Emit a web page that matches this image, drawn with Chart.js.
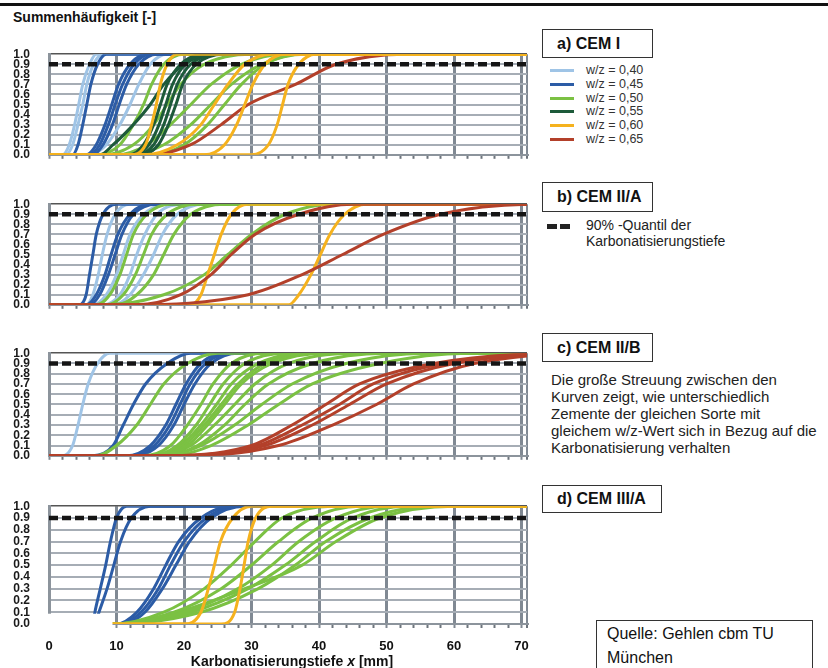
<!DOCTYPE html>
<html>
<head>
<meta charset="utf-8">
<script src="https://cdn.jsdelivr.net/npm/chart.js@4.4.0/dist/chart.umd.min.js"></script>
<style>
  body { margin: 0; width: 828px; height: 668px; position: relative; overflow: hidden; background: #fff;
         font-family: "Liberation Sans", Arial, sans-serif; color: #111; }
  .topline { position: absolute; left: 0; top: 3px; width: 828px; height: 3px; background: #111; }
  .title { position: absolute; left: 13px; top: 10px; font-size: 14px; font-weight: bold; line-height: 14px; }
  .panel { position: absolute; left: 0; width: 540px; }
  .box { position: absolute; border: 1px solid #333; box-sizing: border-box; font-weight: bold; font-size: 16px;
         padding-left: 14px; display: flex; align-items: center; white-space: nowrap; }
  .leg { position: absolute; left: 550px; height: 14px; font-size: 12.5px; line-height: 14px; color: #333; }
  .leg i { position: absolute; left: 0; top: 6px; width: 24px; height: 3px; }
  .leg span { position: absolute; left: 36px; top: 0; white-space: nowrap; }
  .note { position: absolute; left: 586px; font-size: 14px; line-height: 16px; color: #222; white-space: nowrap; }
  .para { position: absolute; left: 551px; top: 371px; font-size: 15px; line-height: 17px; color: #222; white-space: nowrap; }
  .quelle { position: absolute; left: 596px; top: 620px; width: 217px; height: 60px; border: 1px solid #333;
            box-sizing: border-box; padding: 1px 0 0 10px; font-size: 16px; line-height: 24px; color: #111; }
  .xtitle { position: absolute; left: 0; width: 584px; top: 654px; text-align: center; font-size: 14px;
            font-weight: bold; line-height: 14px; }
</style>
</head>
<body>
<div class="topline"></div>
<div class="title">Summenhäufigkeit [-]</div>

<div class="panel" style="top:28px;height:153px"><canvas id="chart-a"></canvas></div>
<div class="panel" style="top:178px;height:153px"><canvas id="chart-b"></canvas></div>
<div class="panel" style="top:327px;height:155px"><canvas id="chart-c"></canvas></div>
<div class="panel" style="top:480px;height:176px"><canvas id="chart-d"></canvas></div>
<div class="xtitle">Karbonatisierungstiefe <i>x</i> [mm]</div>

<div class="box" style="left:542px;top:29px;width:111px;height:29px">a) CEM I</div>
<div id="legend"></div>
<div class="box" style="left:542px;top:182px;width:111px;height:30px">b) CEM II/A</div>
<div style="position:absolute;left:547px;top:224px;width:24px;height:5px;background:repeating-linear-gradient(to right,#222 0 10px,transparent 10px 13px)"></div>
<div class="note" style="top:217px">90% -Quantil der</div>
<div class="note" style="top:233px">Karbonatisierungstiefe</div>
<div class="box" style="left:542px;top:333px;width:111px;height:29px">c) CEM II/B</div>
<div class="para">Die große Streuung zwischen den<br>Kurven zeigt, wie unterschiedlich<br>Zemente der gleichen Sorte mit<br>gleichem w/z-Wert sich in Bezug auf die<br>Karbonatisierung verhalten</div>
<div class="box" style="left:542px;top:485px;width:120px;height:28px">d) CEM III/A</div>
<div class="quelle">Quelle: Gehlen cbm TU<br>München</div>

<script>
// cumulative frequency levels; every curve below lists the depth x [mm] at which it reaches each level
const Y_LEVELS = [0, 0.1, 0.3, 0.5, 0.7, 0.9, 1.0];
const QUANTILE = 0.9;
const X_MAX = 70.8;
const X_TICK_VALUES = [0, 2, 4, 6, 8, 10, 12, 14, 16, 18, 20, 22, 24, 26, 28, 30, 32, 34, 36, 38,
                       40, 42, 44, 46, 48, 50, 52, 54, 56, 58, 60, 62, 64, 66, 68, 70];
const WZ_LABELS = ['w/z = 0,40', 'w/z = 0,45', 'w/z = 0,50', 'w/z = 0,55', 'w/z = 0,60', 'w/z = 0,65'];
const WZ_COLORS = ['#9fc4e6', '#2c5ca6', '#7bc143', '#1d5a3a', '#f5b21e', '#b3402a'];

// a) CEM I
const cemI_040 = [[2.0, 3.0, 3.8, 4.4, 5.0, 6.0, 7.0], [2.5, 3.5, 4.3, 5.0, 5.6, 6.6, 8.0],
                  [6.0, 8.5, 10.5, 12.0, 13.3, 15.0, 17.5]];
const cemI_045 = [[3.5, 4.3, 5.0, 5.6, 6.2, 7.2, 8.5], [5.5, 7.0, 8.3, 9.3, 10.3, 12.0, 14.5],
                  [6.0, 7.5, 8.8, 9.8, 10.9, 12.6, 15.0], [6.5, 8.0, 9.4, 10.4, 11.5, 13.3, 16.0]];
const cemI_050 = [[7.0, 10.5, 12.5, 14.0, 15.2, 17.0, 20.0], [8.0, 12.5, 15.5, 17.5, 19.5, 23.0, 30.0],
                  [10.0, 14.5, 18.0, 21.0, 24.0, 28.5, 35.0], [12.0, 17.0, 21.0, 24.0, 27.0, 31.5, 38.0],
                  [15.0, 20.0, 23.5, 26.0, 28.5, 32.0, 37.0]];
const cemI_055 = [[12.0, 14.0, 15.5, 16.5, 17.5, 19.5, 23.0], [12.5, 14.8, 16.3, 17.3, 18.3, 20.2, 24.0],
                  [13.0, 15.5, 17.0, 18.0, 19.0, 21.0, 25.0], [13.5, 16.2, 17.7, 18.8, 19.8, 21.8, 26.0],
                  [7.5, 9.5, 12.5, 15.0, 17.0, 20.0, 24.0]];
const cemI_060 = [[12.0, 14.3, 15.2, 15.9, 16.5, 17.5, 19.0], [14.0, 19.0, 22.5, 24.5, 26.5, 29.0, 33.0],
                  [23.0, 26.0, 27.8, 29.0, 30.2, 32.0, 35.0], [30.0, 32.5, 33.8, 34.6, 35.4, 37.0, 39.5]];
const cemI_065 = [[15.0, 21.0, 25.5, 29.5, 36.5, 42.5, 53.0]];

// b) CEM II/A
const cemIIA_040 = [[5.5, 6.5, 7.3, 7.9, 8.6, 9.8, 12.0], [6.5, 8.5, 10.0, 11.0, 12.0, 14.0, 18.0],
                    [8.0, 10.5, 12.0, 13.0, 14.2, 16.0, 20.0], [9.5, 12.0, 14.0, 15.5, 16.8, 19.0, 23.0]];
const cemIIA_045 = [[4.5, 5.5, 6.0, 6.5, 7.0, 8.0, 10.0], [5.5, 7.0, 8.3, 9.2, 10.2, 12.0, 15.0],
                    [6.0, 7.5, 8.8, 9.8, 10.8, 12.5, 16.0]];
const cemIIA_050 = [[7.0, 9.0, 10.5, 11.5, 12.5, 14.5, 18.0], [8.5, 11.0, 12.8, 14.0, 15.2, 17.5, 22.0],
                    [10.0, 13.0, 15.5, 17.0, 18.5, 21.0, 26.0], [8.0, 17.0, 23.0, 26.5, 30.0, 35.0, 42.0]];
const cemIIA_060 = [[21.0, 22.5, 23.5, 24.5, 25.5, 27.0, 29.5], [35.5, 37.0, 38.8, 40.2, 41.6, 43.8, 47.0]];
const cemIIA_065 = [[13.0, 19.5, 24.0, 27.0, 30.5, 37.0, 45.0], [12.0, 29.5, 37.5, 43.5, 49.5, 58.0, 72.0]];

// c) CEM II/B
const cemIIB_040 = [[2.0, 3.5, 4.3, 5.0, 5.8, 7.2, 9.0]];
const cemIIB_045 = [[6.5, 9.5, 11.0, 12.5, 14.3, 17.5, 21.0], [11.5, 15.0, 17.3, 18.8, 20.3, 22.5, 26.0],
                    [12.0, 15.6, 17.9, 19.4, 20.9, 23.2, 27.0], [12.5, 16.2, 18.5, 20.0, 21.6, 24.0, 28.0]];
const cemIIB_050 = [[7.0, 10.0, 13.0, 15.0, 17.0, 20.5, 25.0], [14.0, 18.0, 20.5, 22.5, 24.3, 27.0, 32.0],
                    [15.0, 19.0, 21.8, 23.8, 25.8, 29.0, 35.0], [15.0, 19.5, 22.5, 24.8, 27.0, 31.0, 38.0],
                    [15.5, 20.0, 23.0, 25.5, 28.0, 32.0, 39.0], [16.0, 20.5, 23.5, 26.0, 28.5, 33.0, 41.0],
                    [16.0, 21.0, 24.5, 27.5, 30.5, 35.5, 45.0], [17.0, 22.0, 26.0, 29.0, 32.5, 39.0, 50.0],
                    [17.0, 22.5, 27.5, 31.5, 36.0, 44.0, 56.0], [18.0, 24.0, 29.5, 34.0, 39.0, 49.0, 62.0]];
const cemIIB_065 = [[18.0, 30.0, 36.0, 41.0, 46.0, 57.0, 76.0], [19.0, 31.0, 37.5, 43.0, 48.0, 58.5, 78.0],
                    [20.0, 32.0, 39.0, 44.5, 50.0, 60.0, 80.0], [21.0, 34.0, 42.0, 48.5, 54.0, 63.0, 82.0]];

// d) CEM III/A
const cemIIIA_045 = [[6.5, 6.8, 7.6, 8.4, 9.1, 10.0, 11.5], [6.8, 7.4, 8.6, 9.6, 10.6, 12.2, 15.0],
                     [10.0, 13.0, 15.5, 17.3, 19.2, 22.5, 27.0], [10.5, 13.6, 16.2, 18.0, 20.0, 23.3, 28.0],
                     [11.0, 14.2, 16.8, 18.8, 20.8, 24.0, 29.0]];
const cemIIIA_050 = [[9.5, 17.0, 23.0, 27.0, 30.5, 34.5, 42.0], [9.5, 18.5, 25.5, 30.0, 34.0, 39.0, 46.0],
                     [9.5, 20.0, 28.0, 33.0, 37.0, 42.5, 50.0], [9.5, 21.0, 29.5, 35.0, 39.5, 45.0, 53.0],
                     [9.5, 22.5, 31.0, 36.5, 41.0, 47.5, 57.0], [9.5, 19.0, 29.0, 37.5, 42.5, 49.0, 60.0]];
const cemIIIA_060 = [[20.0, 22.5, 23.6, 24.5, 25.4, 27.2, 30.0], [25.5, 27.5, 28.3, 28.9, 29.5, 30.6, 33.0]];

// legend
const legendEl = document.getElementById('legend');
WZ_LABELS.forEach((label, i) => {
  const row = document.createElement('div');
  row.className = 'leg';
  row.style.top = (63 + i * 13.8) + 'px';
  row.innerHTML = `<i style="background:${WZ_COLORS[i]}"></i><span>${label}</span>`;
  legendEl.appendChild(row);
});

function curvePoints(xs) {
  const pts = [{x: 0, y: 0}];
  xs.forEach((x, i) => {
    if (x > pts[pts.length - 1].x) pts.push({x: x, y: Y_LEVELS[i]});
  });
  pts.push({x: 95, y: 1});
  return pts;
}

// white notch in the lower left corner of panel d (as in the original figure)
const notchPlugin = {
  id: 'notch',
  afterDatasetsDraw(chart, args, opts) {
    if (!opts || opts.x === undefined) return;
    const {ctx, chartArea, scales} = chart;
    const right = scales.x.getPixelForValue(opts.x);
    const top = scales.y.getPixelForValue(opts.y) + 1.5;
    ctx.save();
    ctx.fillStyle = '#fff';
    ctx.fillRect(chartArea.left - 3, top, right - chartArea.left + 3, chartArea.bottom + 10 - top);
    ctx.restore();
  }
};

function makePanel(id, groups, showX, notch) {
  const datasets = [{
    data: [{x: 0, y: QUANTILE}, {x: X_MAX, y: QUANTILE}],
    borderColor: '#151515', borderWidth: 4.5, borderDash: [9, 4], pointRadius: 0, order: 0
  }];
  for (const [curves, wz] of groups) {
    for (const xs of curves) {
      datasets.push({
        data: curvePoints(xs),
        borderColor: WZ_COLORS[wz],
        borderWidth: 3,
        pointRadius: 0,
        cubicInterpolationMode: 'monotone',
        order: 1
      });
    }
  }

  const config = {
    type: 'line',
    data: {datasets: datasets},
    options: {
      responsive: true,
      maintainAspectRatio: false,
      animation: false,
      layout: {padding: {top: 8, right: 13, left: 0, bottom: 0}},
      plugins: {
        legend: {display: false},
        tooltip: {enabled: false},
        notch: notch || {}
      },
      scales: {
        x: {
          type: 'linear',
          min: 0,
          max: X_MAX,
          afterBuildTicks: (scale) => {
            scale.ticks = X_TICK_VALUES.concat([X_MAX]).map(v => ({value: v}));
          },
          afterFit: (scale) => { scale.height = showX ? 32 : 8; },
          border: {color: '#8c949c', width: 2},
          grid: {
            color: (c) => (c.tick && (c.tick.value % 10 === 0 || c.tick.value > 70)) ? '#808993' : 'rgba(0,0,0,0)',
            lineWidth: (c) => (c.tick && c.tick.value > 70) ? 2 : 3,
            tickColor: (c) => (c.tick && c.tick.value % 10 === 0) ? '#808993' : '#6d747c',
            tickLength: 4,
            tickWidth: 2
          },
          ticks: {
            display: showX,
            autoSkip: false,
            maxRotation: 0,
            padding: 11,
            color: '#111',
            font: {family: 'Liberation Sans', size: 13, weight: 'bold'},
            callback: (v) => (v % 10 === 0 && v <= 70) ? String(v) : ''
          }
        },
        y: {
          min: 0,
          max: 1,
          afterFit: (scale) => { scale.width = 49; },
          border: {color: '#8c949c', width: 3},
          grid: {
            color: (c) => (c.tick && Math.abs(c.tick.value - 1) < 1e-6) ? '#555' : '#a6adb5',
            lineWidth: (c) => (c.tick && Math.abs(c.tick.value - 1) < 1e-6) ? 1.5 : 2,
            drawTicks: false
          },
          ticks: {
            stepSize: 0.1,
            autoSkip: false,
            padding: 19,
            color: '#1a1a1a',
            font: {family: 'Liberation Sans', size: 12, weight: 'bold'},
            callback: (v) => v.toFixed(1)
          }
        }
      }
    },
    plugins: [notchPlugin]
  };

  return new Chart(document.getElementById(id), config);
}

makePanel('chart-a', [[cemI_060, 4], [cemI_065, 5], [cemI_055, 3], [cemI_050, 2], [cemI_045, 1], [cemI_040, 0]], false);
makePanel('chart-b', [[cemIIA_065, 5], [cemIIA_060, 4], [cemIIA_050, 2], [cemIIA_045, 1], [cemIIA_040, 0]], false);
makePanel('chart-c', [[cemIIB_065, 5], [cemIIB_050, 2], [cemIIB_045, 1], [cemIIB_040, 0]], false);
makePanel('chart-d', [[cemIIIA_060, 4], [cemIIIA_050, 2], [cemIIIA_045, 1]], true, {x: 9.4, y: 0.1});
</script>
</body>
</html>
